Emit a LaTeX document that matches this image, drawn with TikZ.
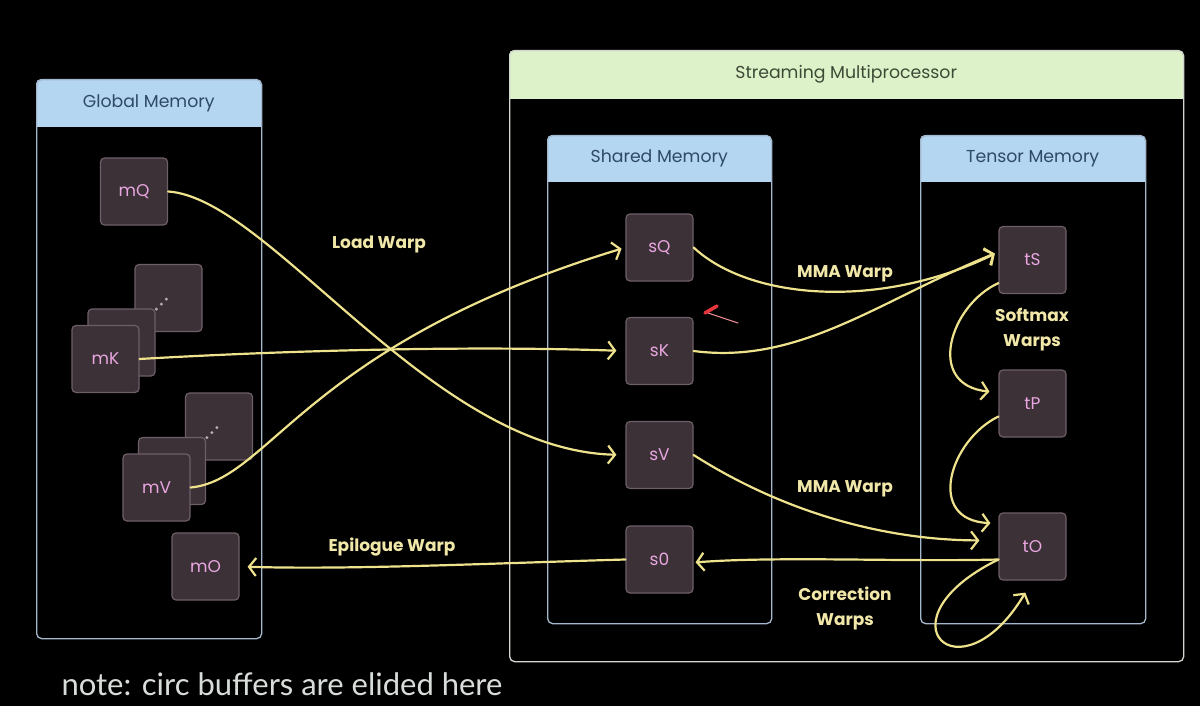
\documentclass[tikz,border=0pt]{standalone}
\usepackage{fontspec}
\setmainfont{Poppins}
\newfontfamily\notefont{Lato}
\usetikzlibrary{arrows.meta, positioning}
\definecolor{chblue}{HTML}{B4D6F0}
\definecolor{chgreen}{HTML}{DDF2C9}
\definecolor{ctblue}{HTML}{2E4A66}
\definecolor{ctgreen}{HTML}{3D4B36}
\definecolor{cedge}{HTML}{A3B8CC}
\definecolor{cedgesm}{HTML}{D3D7D0}
\definecolor{cbuf}{HTML}{3C3137}
\definecolor{cbufedge}{HTML}{6E5E67}
\definecolor{cpink}{HTML}{E9A6E0}
\definecolor{cdot}{HTML}{B8AEB6}
\definecolor{cyel}{HTML}{EEE28C}
\definecolor{clabel}{HTML}{F1E7A8}
\definecolor{cred}{HTML}{E8363F}
\definecolor{cnote}{HTML}{D9DDD9}
\tikzset{
  panel/.style={draw=#1, line width=1.3pt, rounded corners=5pt, anchor=north west, inner sep=0pt},
  panel/.default=cedge,
  head/.style={fill=#1, anchor=north west, inner sep=0pt, text=ctblue, font=\fontsize{17.3}{20}\selectfont},
  buf/.style={draw=cbufedge, fill=cbuf, line width=1.2pt, rounded corners=4pt, minimum width=67, minimum height=67, inner sep=0pt, text=cpink, font=\fontsize{17}{20}\selectfont},
  warp/.style={-{Straight Barb[length=7pt, width=18pt]}, draw=cyel, line width=2.2pt, line cap=round},
  lbl/.style={text=clabel, align=center, font=\fontsize{17}{25}\selectfont\bfseries},
  note/.style={text=cnote, font=\notefont\fontsize{31}{36}\selectfont},
}

\begin{document}
\begin{tikzpicture}[x=1pt, y=-1pt]
  \fill[black] (0,0) rectangle (1200,706);
  \useasboundingbox (0,0) rectangle (1200,706);
  % global memory
  \begin{scope}
    \clip[rounded corners=5pt] (36,79) rectangle (261,638);
    \node[head=chblue, minimum width=225, minimum height=48] (ghead) at (36,79) {Global Memory};
  \end{scope}
  \node[panel, minimum width=225, minimum height=559] (gmem) at (36,79) {};
  % streaming multiprocessor
  \begin{scope}
    \clip[rounded corners=5pt] (509,50) rectangle (1183,661);
    \node[head=chgreen, minimum width=674, minimum height=49, text=ctgreen] (smhead) at (509,50) {Streaming Multiprocessor};
  \end{scope}
  \node[panel=cedgesm, minimum width=674, minimum height=611] (sm) at (509,50) {};
  % shared and tensor memory
  \begin{scope}
    \clip[rounded corners=5pt] (547,135) rectangle (771,623);
    \node[head=chblue, minimum width=224, minimum height=47] (shead) at (547,135) {Shared Memory};
  \end{scope}
  \node[panel, minimum width=224, minimum height=488] (smem) at (547,135) {};
  \begin{scope}
    \clip[rounded corners=5pt] (920,135) rectangle (1145,623);
    \node[head=chblue, minimum width=225, minimum height=47] (thead) at (920,135) {Tensor Memory};
  \end{scope}
  \node[panel, minimum width=225, minimum height=488] (tmem) at (920,135) {};
  % buffers in global memory (K and V are stacks)
  \node[buf] (mQ) at (134,191.5) {mQ};
  \node[buf] (mKb) at (168.5,298) {};
  \node[buf] (mKm) at (121.5,342.5) {};
  \node[buf] (mK) at (105.5,359) {mK};
  \node[buf] (mVb) at (219,426.5) {};
  \node[buf] (mVm) at (172,471) {};
  \node[buf] (mV) at (156.5,487.5) {mV};
  \node[buf] (mO) at (205.5,566.5) {mO};
  \foreach \b in {mKb, mVb}
    \foreach \i in {0,1,2}
      \fill[cdot] (\b.south west) ++(22+5*\i,-23-5*\i) circle (1.6);
  % shared memory buffers
  \node[buf] (sQ) at (659.5,247.5) {sQ};
  \node[buf] (sK) at (659.5,351) {sK};
  \node[buf] (sV) at (659.5,455) {sV};
  \node[buf] (s0) at (659.5,559.5) {s0};
  % tensor memory buffers
  \node[buf] (tS) at (1032.5,260) {tS};
  \node[buf] (tP) at (1032.5,403.5) {tP};
  \node[buf] (tO) at (1032.5,546.5) {tO};
  % load warp
  \draw[warp, shorten >=9pt] (mQ.east) .. controls (270,198) and (430,450) .. (sV.west);
  \draw[warp, shorten >=9pt] (mK.east) .. controls (260,352) and (450,345) .. (sK.west);
  \draw[warp, shorten >=4pt] (mV.east) .. controls (270,480) and (305,345) .. (sQ.west);
  % mma warps
  \draw[warp, shorten >=4pt] (sQ.east) .. controls (750,300) and (880,310) .. ([yshift=8pt]tS.west);
  \draw[warp, shorten >=4pt] (sK.east) .. controls (800,365) and (880,300) .. ([yshift=8pt]tS.west);
  \draw[warp, shorten >=19pt] (sV.east) .. controls (780,510) and (880,540) .. ([yshift=6pt]tO.west);
  % softmax and correction warps
  \draw[warp, shorten >=9pt] ([yshift=11pt]tS.south west) .. controls (950,305) and (925,385) .. ([yshift=11pt]tP.west);
  \draw[warp, shorten >=8pt] ([yshift=-13pt]tP.west) .. controls (950,440) and (925,520) .. ([yshift=23pt]tO.west);
  \draw[warp, shorten >=14pt] ([yshift=-13pt]tO.west) .. controls (875,620) and (960,702) .. (tO.south);
  % epilogue
  \draw[warp, shorten >=2pt] ([yshift=-13pt]tO.west) .. controls (900,562) and (780,556) .. ([yshift=-3pt]s0.east);
  \draw[warp, shorten >=8pt] (s0.west) .. controls (500,563) and (350,570) .. (mO.east);
  % pen mark
  \draw[cred!55, line width=1pt, line cap=round] (708,313) -- (738,323);
  \draw[cred, line width=3.5pt, line cap=round] (705,313) -- (717,306);
  % labels
  \node[lbl] (lload) at (379,244) {Load Warp};
  \node[lbl] (lmma1) at (845,274) {MMA Warp};
  \node[lbl] (lsoft) at (1032,330) {Softmax\\Warps};
  \node[lbl] (lmma2) at (845,489) {MMA Warp};
  \node[lbl] (lepi) at (392,547) {Epilogue Warp};
  \node[lbl] (lcorr) at (845,608) {Correction\\Warps};
  \node[note] (note) at (282,684) {note: circ buffers are elided here};
\end{tikzpicture}
\end{document}
